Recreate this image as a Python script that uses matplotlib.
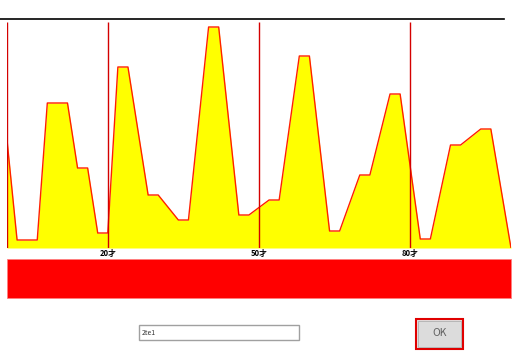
import matplotlib.pyplot as plt
from matplotlib.patches import Rectangle, FancyBboxPatch
from matplotlib.lines import Line2D

plt.rcParams['font.family'] = ['Noto Sans CJK JP', 'DejaVu Sans']

# age steps (index) and values
steps = [0, 1, 3, 4, 6, 7, 8, 9, 10, 11, 12, 14, 15, 17, 18, 20, 21, 23, 24,
         26, 27, 29, 30, 32, 33, 35, 36, 38, 39, 41, 42, 44, 45, 47, 48, 50]
values = [108, 8, 8, 145, 145, 80, 80, 15, 15, 181, 181, 53, 53, 28, 28, 221, 221, 33, 33,
          48, 48, 192, 192, 17, 17, 73, 73, 154, 154, 9, 9, 103, 103, 119, 119, 0]
marker_steps = [0, 10, 25, 40]
tick_steps = [10, 25, 40]
tick_labels = ['20才', '50才', '80才']
input_text = '2te1'
button_text = 'OK'

W, H = 517, 358
fig = plt.figure(figsize=(W / 100, H / 100), dpi=100)


def box(x0, y0, x1, y1):
    # pixel box (top-left origin) -> figure rect
    return [x0 / W, 1 - y1 / H, (x1 - x0) / W, (y1 - y0) / H]


ax = fig.add_axes(box(7, 19, 511, 248))
ax.fill_between(steps, values, 0, color='#ffff00', lw=0)
ax.plot(steps + [50], values + [0], color='#ff2000', lw=1)
ax.vlines(marker_steps, 0, 226, color='#d40000', lw=1)
ax.set_xlim(0, 50)
ax.set_ylim(0, 229)
for s in ax.spines.values():
    s.set_visible(False)
ax.set_yticks([])
ax.set_xticks(tick_steps, tick_labels, fontsize=5.5, fontweight='bold')
ax.tick_params(axis='x', length=0, pad=1)

# top rule
fig.add_artist(Line2D([0, 504 / W], [1 - 19 / H, 1 - 19 / H], color='black', lw=1.2))

# red band
fig.add_artist(Rectangle((7 / W, 1 - 298 / H), 504 / W, 39 / H, transform=fig.transFigure,
                         facecolor='#ff0000', edgecolor='#ff8080', lw=0.6))

# input box
fig.add_artist(Rectangle((139 / W, 1 - 340 / H), 160 / W, 15 / H, transform=fig.transFigure,
                         facecolor='white', edgecolor='#a0a0a0', lw=1))
fig.text(142 / W, 1 - 333 / H, input_text, fontsize=5, va='center', ha='left', color='#333333')

# OK button
fig.add_artist(Rectangle((416 / W, 1 - 349 / H), 47 / W, 30 / H, transform=fig.transFigure,
                         facecolor='#e2e2e2', edgecolor='#e00000', lw=1.5))
fig.add_artist(Rectangle((418 / W, 1 - 347 / H), 43 / W, 26 / H, transform=fig.transFigure,
                         facecolor='#dcdcdc', edgecolor='#b0b0b0', lw=0.6))
fig.text(439.5 / W, 1 - 333 / H, button_text, fontsize=7.5, va='center', ha='center',
         color='#606060')

fig.savefig('out.png', dpi=100)
